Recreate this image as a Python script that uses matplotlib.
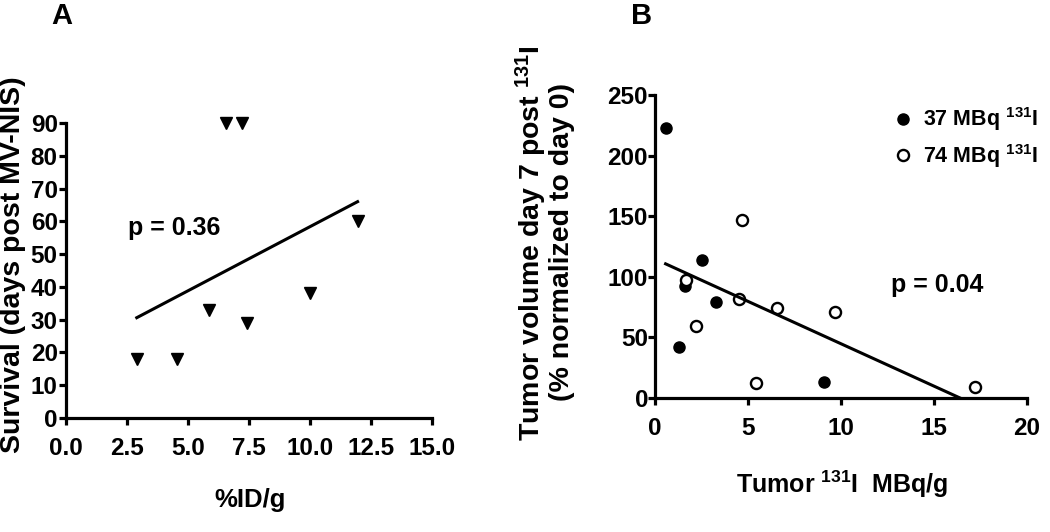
import matplotlib
matplotlib.use("Agg")
import matplotlib.pyplot as plt

plt.rcParams["font.family"] = ["Liberation Sans", "DejaVu Sans"]
plt.rcParams["font.weight"] = "bold"
plt.rcParams["mathtext.fontset"] = "custom"
plt.rcParams["mathtext.rm"] = "Liberation Sans:bold"
plt.rcParams["mathtext.bf"] = "Liberation Sans:bold"
plt.rcParams["mathtext.it"] = "Liberation Sans:bold"
plt.rcParams["mathtext.default"] = "rm"

# panel A: uptake vs survival
uptake = [2.9, 4.55, 5.86, 6.56, 7.2, 7.43, 10.0, 11.95]
survival = [18, 18, 33, 90, 90, 29, 38, 60]
fit_a_x = [2.9, 11.95]
fit_a_y = [30.6, 66]

# panel B: tumor dose vs tumor volume
dose_37 = [0.6, 2.5, 1.6, 3.3, 1.3, 9.1]
vol_37 = [223, 114, 92, 79, 42, 13]
dose_74 = [4.66, 1.66, 4.49, 2.19, 6.54, 9.66, 5.41, 17.2]
vol_74 = [147, 97, 82, 59.5, 74, 71, 12, 9.4]
fit_b_x = [0.57, 16.4]
fit_b_y = [110.7, 0]

W, H = 1050, 532
fig = plt.figure(figsize=(W / 100, H / 100), dpi=100)

def px_axes(l, r, t, b):
    return fig.add_axes([l / W, 1 - b / H, (r - l) / W, (b - t) / H])

def style(ax):
    for s in ["top", "right"]:
        ax.spines[s].set_visible(False)
    for s in ["left", "bottom"]:
        ax.spines[s].set_linewidth(2.3)
    ax.tick_params(width=2.3, length=5, labelsize=17.5)

# A
axA = px_axes(66, 432, 123, 418)
style(axA)
axA.plot(uptake, survival, "v", color="black", ms=8.5, clip_on=False)
axA.plot(fit_a_x, fit_a_y, color="black", lw=2.2)
axA.set_xlim(0, 15)
axA.set_ylim(0, 90)
axA.set_xticks([0, 2.5, 5, 7.5, 10, 12.5, 15])
axA.set_xticklabels(["0.0", "2.5", "5.0", "7.5", "10.0", "12.5", "15.0"])
axA.set_yticks(range(0, 91, 10))
axA.tick_params(axis="x", pad=9)
axA.tick_params(axis="y", pad=1)
axA.text(2.55, 58, "p = 0.36", fontsize=18, va="center")

fig.text(13 / W, 1 - 265 / H, "Survival (days post MV-NIS)", rotation=90,
         fontsize=20.5, ha="center", va="center")
fig.text(250 / W, 1 - 500 / H, "%ID/g", fontsize=18.5, ha="center", va="center")
fig.text(62 / W, 1 - 16 / H, "A", fontsize=21, ha="center", va="center")

# B
axB = px_axes(655, 1027, 95, 398)
style(axB)
axB.plot(dose_37, vol_37, "o", color="black", ms=8, clip_on=False,
         label=r"37 MBq $^{131}$I")
axB.plot(dose_74, vol_74, "o", mfc="white", mec="black", mew=1.7, ms=8,
         clip_on=False, label=r"74 MBq $^{131}$I")
axB.plot(fit_b_x, fit_b_y, color="black", lw=2.2)
axB.set_xlim(0, 20)
axB.set_ylim(0, 250)
axB.set_xticks([0, 5, 10, 15, 20])
axB.set_yticks([0, 50, 100, 150, 200, 250])
axB.tick_params(axis="x", pad=9)
axB.tick_params(axis="y", pad=0)
axB.text(12.7, 93, "p = 0.04", fontsize=18, va="center")
axB.legend(loc="upper right", bbox_to_anchor=(1.08, 1.03), frameon=False,
           fontsize=15.5, handletextpad=0.4, labelspacing=0.4, handlelength=1)

fig.text(531 / W, 1 - 243 / H, r"Tumor volume day 7 post $^{131}$I", rotation=90,
         fontsize=20.5, ha="center", va="center")
fig.text(562 / W, 1 - 242 / H, "(% normalized to day 0)", rotation=90,
         fontsize=20.5, ha="center", va="center")
fig.text(842 / W, 1 - 484 / H, r"Tumor $^{131}$I  MBq/g", fontsize=18,
         ha="center", va="center")
fig.text(642 / W, 1 - 16 / H, "B", fontsize=21, ha="center", va="center")

fig.savefig("out.png", dpi=100)
